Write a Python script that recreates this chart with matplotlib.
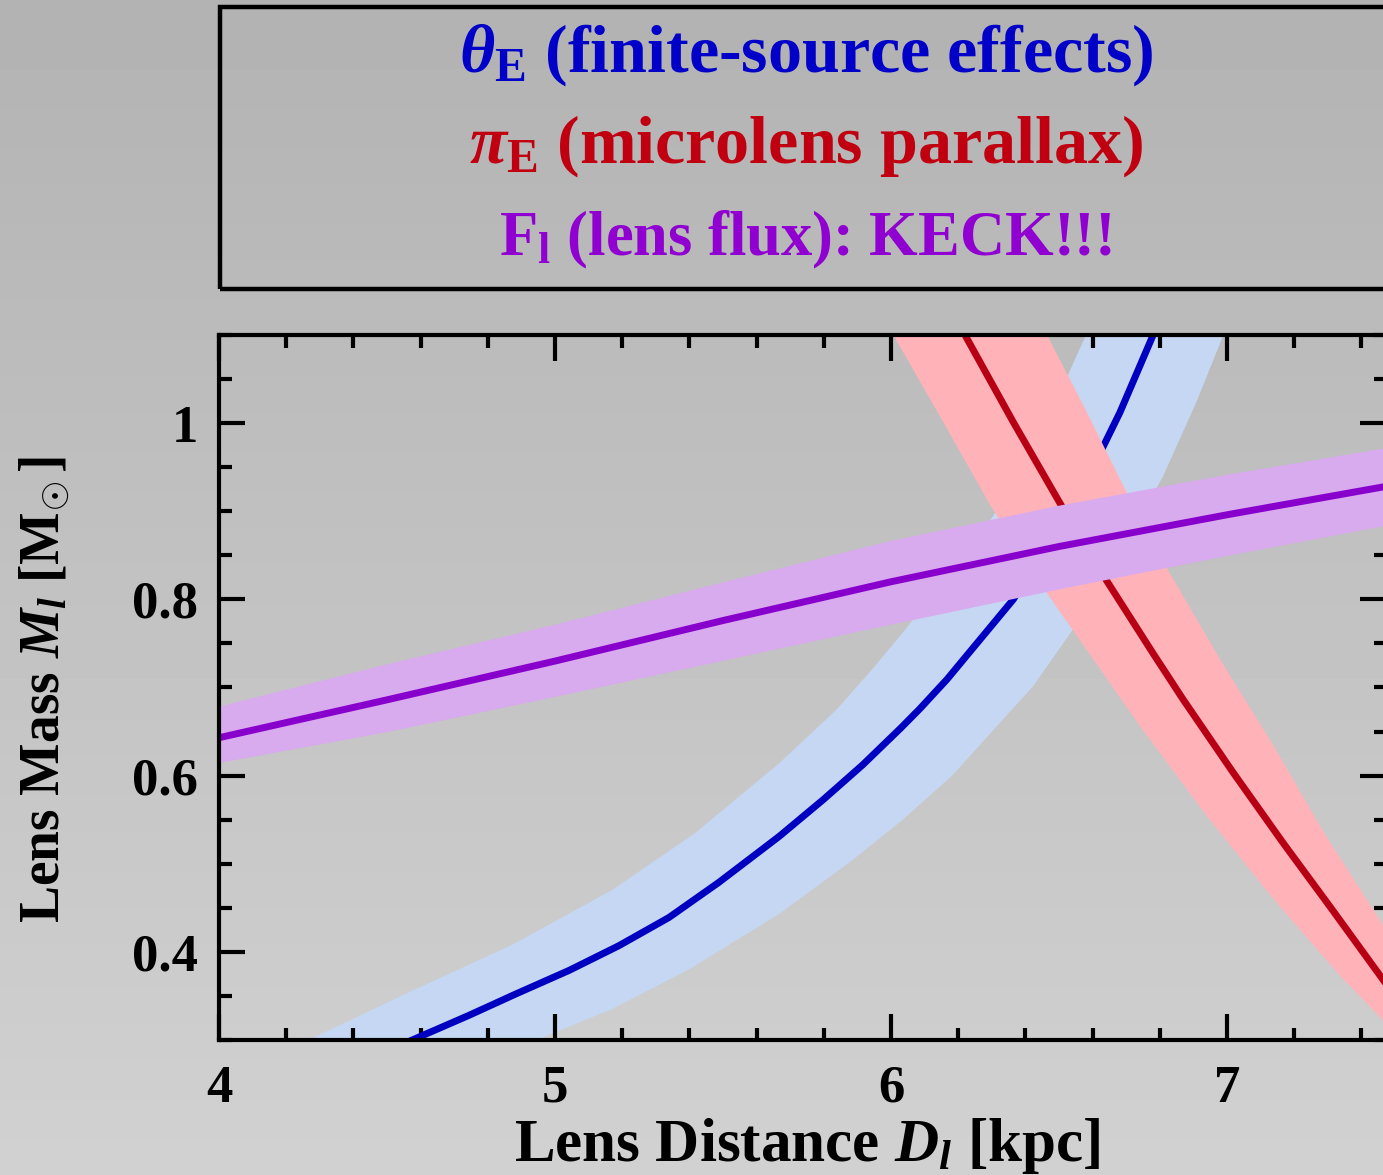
import numpy as np
import matplotlib.pyplot as plt
from matplotlib.patches import Rectangle
from matplotlib.ticker import MultipleLocator

plt.rcParams['font.family'] = ['Liberation Serif', 'DejaVu Serif']
plt.rcParams['font.weight'] = 'bold'
plt.rcParams['mathtext.fontset'] = 'custom'
plt.rcParams['mathtext.rm'] = 'Liberation Serif:bold'
plt.rcParams['mathtext.it'] = 'Liberation Serif:italic:bold'
plt.rcParams['mathtext.bf'] = 'Liberation Serif:bold'

# theta_E constraint (finite-source effects)
theta_d = [4.575, 4.744, 4.882, 5.042, 5.190, 5.339, 5.488, 5.667, 5.799, 5.915,
           6.029, 6.086, 6.166, 6.364, 6.500, 6.627, 6.681, 6.780]
theta_m = [0.300, 0.328, 0.352, 0.379, 0.407, 0.439, 0.479, 0.531, 0.573, 0.612,
           0.654, 0.676, 0.709, 0.800, 0.884, 0.970, 1.012, 1.100]
theta_up_d = [4.266, 4.553, 4.872, 5.169, 5.414, 5.667, 5.838, 5.947, 6.047, 6.303,
              6.450, 6.580]
theta_up_m = [0.300, 0.352, 0.408, 0.470, 0.534, 0.614, 0.675, 0.722, 0.768, 0.894,
              0.990, 1.100]
theta_lo_d = [4.946, 5.169, 5.403, 5.667, 5.878, 6.029, 6.182, 6.424, 6.536, 6.673,
              6.810, 6.910, 6.989]
theta_lo_m = [0.300, 0.335, 0.381, 0.443, 0.502, 0.548, 0.600, 0.702, 0.763, 0.845,
              0.940, 1.025, 1.100]

# pi_E constraint (microlens parallax)
pi_d = [6.220, 6.364, 6.503, 6.642, 6.781, 6.870, 7.019, 7.168, 7.307, 7.465]
pi_m = [1.100, 1.001, 0.909, 0.821, 0.738, 0.686, 0.603, 0.523, 0.451, 0.368]
pi_lo_d = [6.007, 6.166, 6.295, 6.464, 6.602, 6.741, 6.940, 7.138, 7.336, 7.465]
pi_lo_m = [1.100, 0.994, 0.907, 0.807, 0.732, 0.656, 0.554, 0.460, 0.373, 0.322]
pi_up_d = [6.464, 6.582, 6.691, 6.820, 6.979, 7.138, 7.287, 7.465]
pi_up_m = [1.100, 1.013, 0.929, 0.836, 0.732, 0.634, 0.536, 0.430]

# lens flux constraint
flux_d = [4.0, 4.5, 5.0, 5.5, 6.0, 6.5, 7.0, 7.47]
flux_m = [0.643, 0.686, 0.730, 0.776, 0.820, 0.860, 0.896, 0.928]
flux_up = [0.679, 0.727, 0.772, 0.820, 0.867, 0.907, 0.942, 0.972]
flux_lo = [0.615, 0.650, 0.690, 0.731, 0.772, 0.812, 0.850, 0.884]

W, H = 1383, 1175
fig = plt.figure(figsize=(W / 100, H / 100), dpi=100)

# grey gradient background
bg = fig.add_axes([0, 0, 1, 1], zorder=-10)
grad = np.linspace(0.70, 0.82, 256)[:, None]
bg.imshow(grad, cmap='gray', vmin=0, vmax=1, aspect='auto', extent=[0, 1, 0, 1])
bg.axis('off')

ax = fig.add_axes([219 / W, 1 - 1040 / H, (1386 - 219) / W, (1040 - 335) / H])
ax.set_facecolor('none')

ax.fill(theta_up_d + theta_lo_d[::-1], theta_up_m + theta_lo_m[::-1],
        color='#c5d7f2', lw=0, zorder=1)
ax.plot(theta_d, theta_m, color='#0000c0', lw=5, zorder=2)
ax.fill(pi_lo_d + pi_up_d[::-1], pi_lo_m + pi_up_m[::-1],
        color='#ffb3b8', lw=0, zorder=3)
ax.plot(pi_d, pi_m, color='#b80014', lw=5, zorder=4)
ax.fill_between(flux_d, flux_lo, flux_up, color='#d8aaee', lw=0, zorder=5)
ax.plot(flux_d, flux_m, color='#8800cc', lw=5, zorder=6)

ax.set_xlim(4, 7.473)
ax.set_ylim(0.3, 1.1)
ax.xaxis.set_minor_locator(MultipleLocator(0.2))
ax.yaxis.set_minor_locator(MultipleLocator(0.05))
ax.set_xticks([4, 5, 6, 7])
ax.set_xticklabels(['4', '5', '6', '7'])
ax.set_yticks([0.4, 0.6, 0.8, 1.0])
ax.set_yticklabels(['0.4', '0.6', '0.8', '1'])
ax.tick_params(which='both', direction='in', top=True, right=True, width=3)
ax.tick_params(which='major', length=19)
ax.tick_params(which='minor', length=9)
ax.tick_params(axis='x', pad=18, labelsize=38)
ax.tick_params(axis='y', pad=15, labelsize=38)
for sp in ax.spines.values():
    sp.set_linewidth(3)
    sp.set_zorder(10)

fig.text(807 / W, 1 - 1161 / H, r'Lens Distance $D_l$ [kpc]', ha='center',
         va='baseline', fontsize=44)
fig.text(45 / W, 1 - 690 / H, r'Lens Mass $M_l$ [M$_{\!\odot}$]', ha='center',
         va='center', rotation=90, fontsize=40)

# legend box on top
fig.patches.append(Rectangle((220 / W, 1 - 289 / H), (1450 - 220) / W, (289 - 7) / H,
                             transform=fig.transFigure, fill=False, lw=3.2,
                             ec='black'))
fig.text(806 / W, 1 - 72 / H, r'$\theta_{\mathrm{E}}$ (finite-source effects)',
         ha='center', va='baseline', fontsize=49, color='#0000c8')
fig.text(806 / W, 1 - 163 / H, r'$\pi_{\mathrm{E}}$ (microlens parallax)',
         ha='center', va='baseline', fontsize=49, color='#c00010')
fig.text(806 / W, 1 - 255 / H, r'F$_{\mathrm{l}}$ (lens flux): KECK!!!',
         ha='center', va='baseline', fontsize=45, color='#9000d0')

fig.savefig('out.png', dpi=100)
